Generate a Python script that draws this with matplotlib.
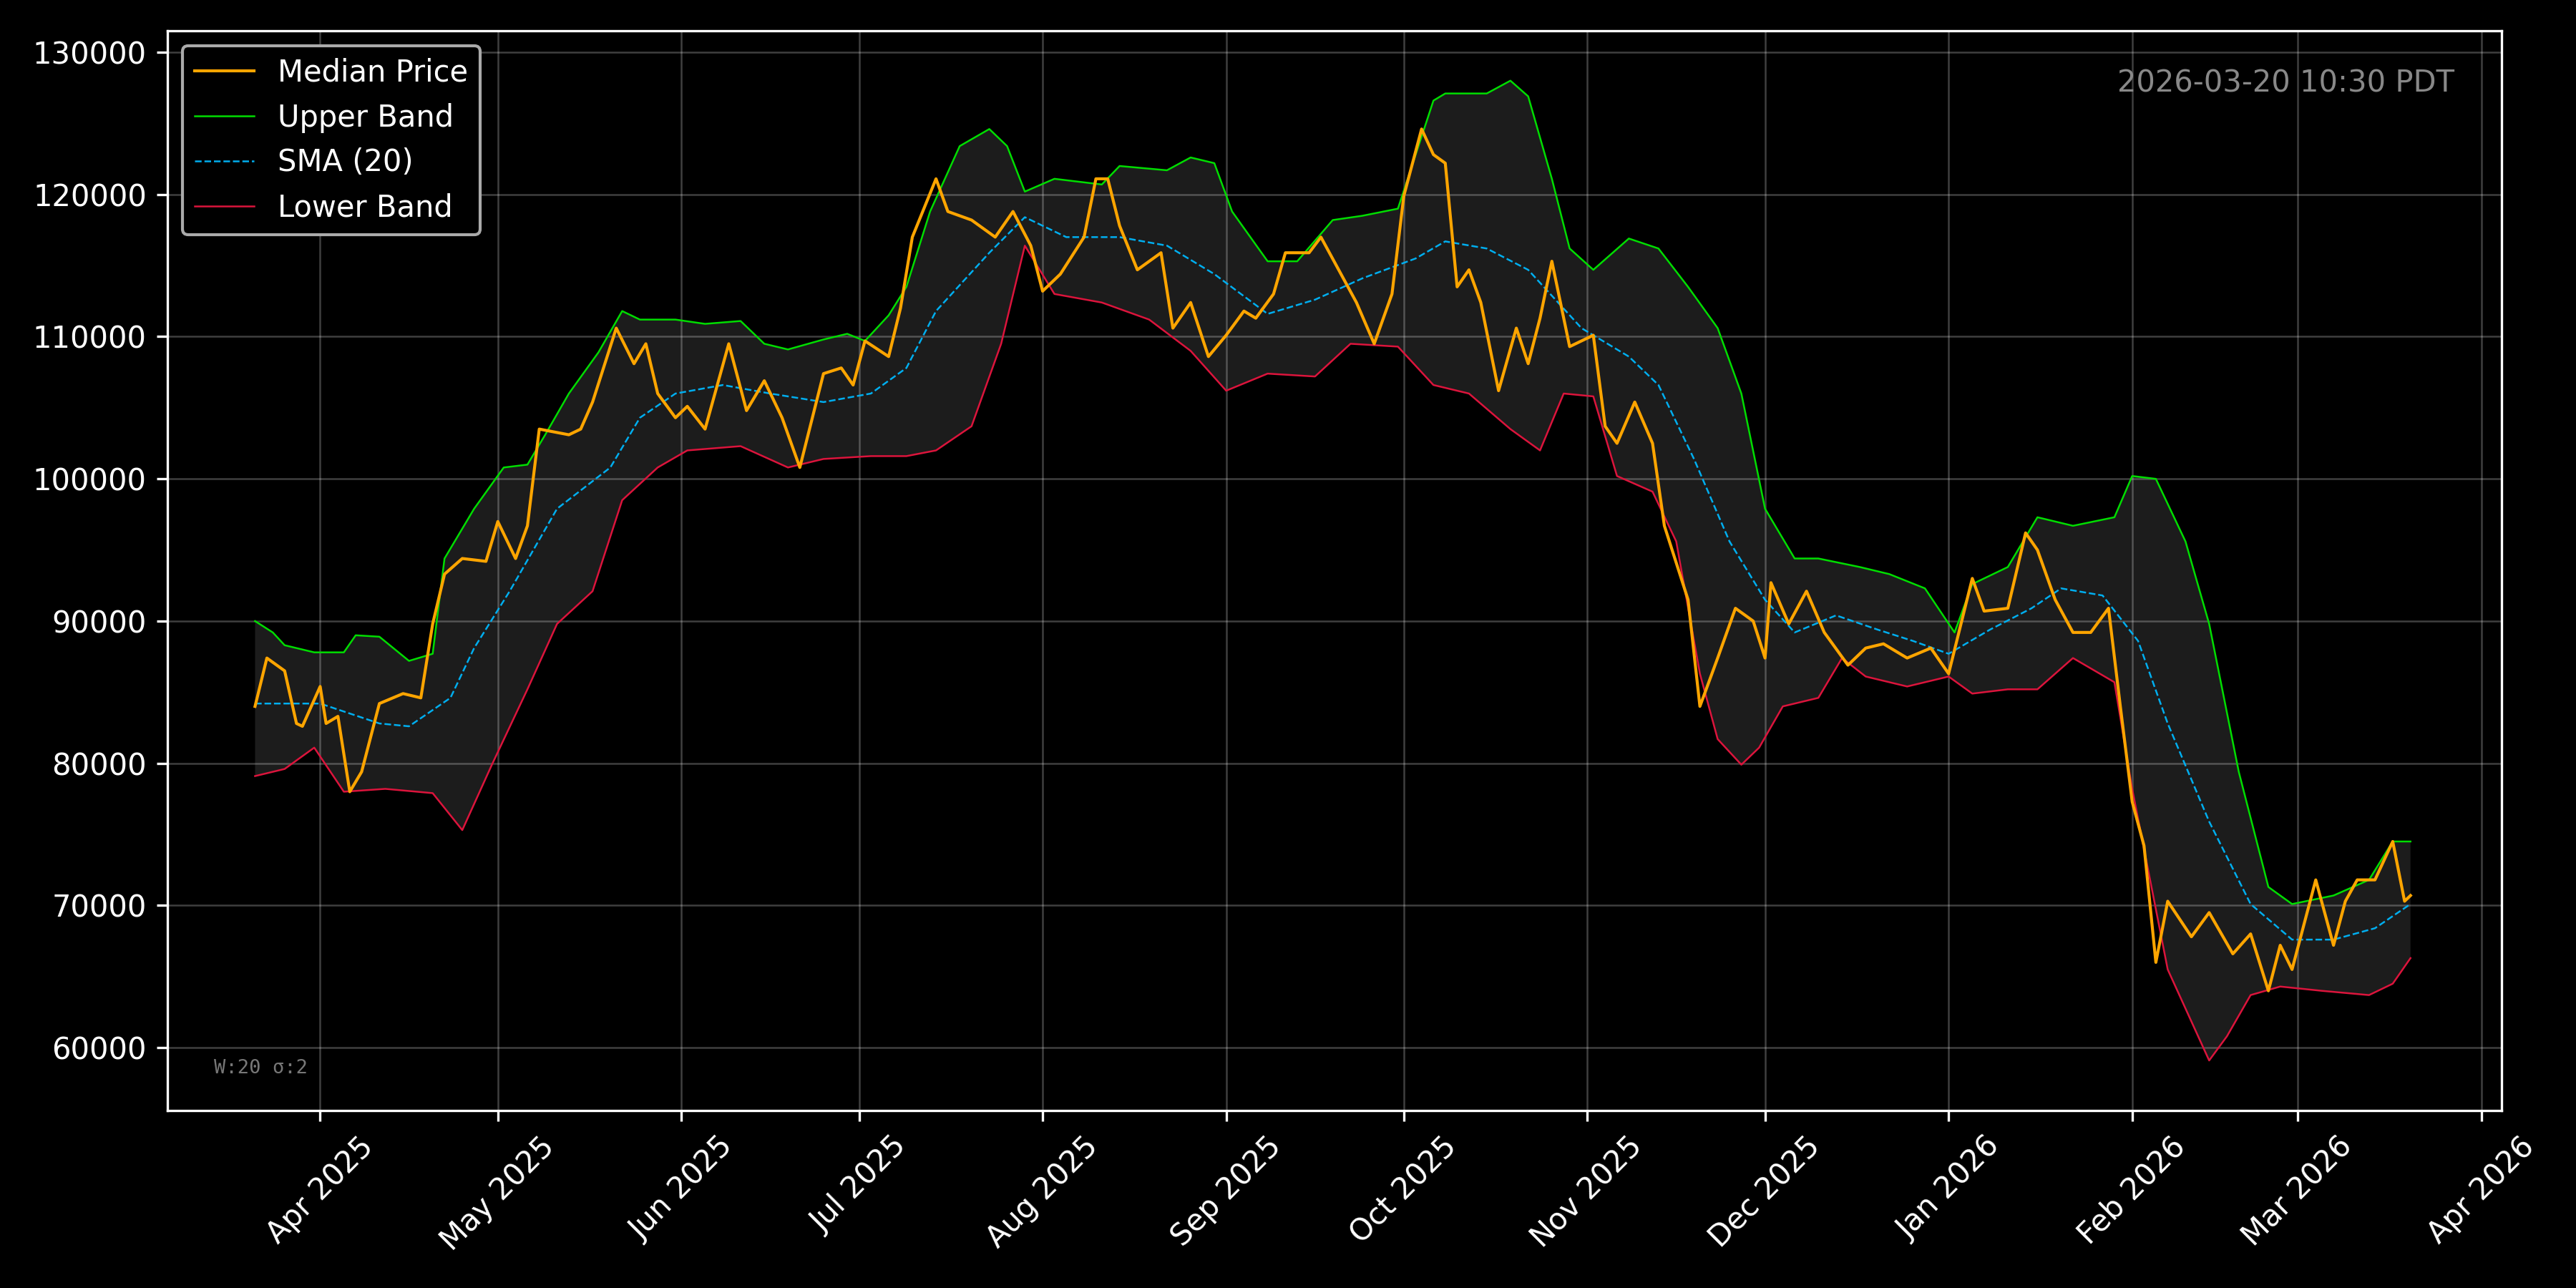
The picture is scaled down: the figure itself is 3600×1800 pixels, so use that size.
import numpy as np
import pandas as pd
import matplotlib.pyplot as plt
import matplotlib.dates as mdates

start = pd.Timestamp('2025-04-01')

# day offsets from 2025-04-01
med_days = [-11, -9, -6, -4, -3, 0, 1, 3, 5, 7, 10, 14, 17, 19, 21, 24, 28, 30, 33, 35,
            37, 42, 44, 46, 50, 53, 55, 57, 60, 62, 65, 69, 72, 75, 78, 81, 85, 88, 90, 92,
            96, 98, 100, 104, 106, 110, 114, 117, 120, 122, 125, 129, 131, 133, 135, 138, 142, 144, 147, 150,
            153, 156, 158, 161, 163, 167, 169, 172, 175, 178, 181, 183, 186, 188, 190, 192, 194, 196, 199, 202,
            204, 206, 208, 211, 215, 217, 219, 222, 225, 227, 231, 233, 236, 239, 242, 244, 245, 248, 251, 254,
            258, 261, 264, 268, 272, 275, 279, 281, 285, 288, 290, 293, 296, 299, 302, 304, 306, 308, 310, 312,
            316, 319, 323, 326, 329, 331, 333, 337, 340, 342, 344, 347, 350, 352, 353]
med_vals = [84000, 87400, 86500, 82800, 82600, 85400, 82800, 83300, 78000, 79400, 84200, 84900, 84600, 89800, 93300, 94400, 94200, 97000, 94400, 96700,
            103500, 103100, 103500, 105400, 110600, 108100, 109500, 106000, 104300, 105100, 103500, 109500, 104800, 106900, 104300, 100800, 107400, 107800, 106600, 109700,
            108600, 112000, 117000, 121100, 118800, 118200, 117000, 118800, 116400, 113200, 114400, 117000, 121100, 121100, 117800, 114700, 115900, 110600, 112400, 108600,
            110100, 111800, 111300, 113000, 115900, 115900, 117000, 114700, 112400, 109500, 113000, 119900, 124600, 122800, 122200, 113500, 114700, 112400, 106200, 110600,
            108100, 111300, 115300, 109300, 110100, 103700, 102500, 105400, 102500, 96700, 91500, 84000, 87400, 90900, 90000, 87400, 92700, 89800, 92100, 89200,
            86900, 88100, 88400, 87400, 88100, 86300, 93000, 90700, 90900, 96200, 95000, 91500, 89200, 89200, 90900, 84000, 77300, 74200, 66000, 70300,
            67800, 69500, 66600, 68000, 64000, 67200, 65500, 71800, 67200, 70300, 71800, 71800, 74500, 70300, 70700]

upper_days = [-11, -8, -6, -1, 4, 6, 10, 15, 19, 21, 26, 31, 35, 38, 42, 47, 51, 54, 60, 65,
              71, 75, 79, 85, 89, 92, 96, 99, 103, 108, 113, 116, 119, 124, 132, 135, 143, 147, 151, 154,
              160, 165, 171, 176, 182, 188, 190, 197, 201, 204, 208, 211, 215, 221, 226, 231, 236, 240, 244, 249,
              253, 260, 265, 271, 276, 279, 285, 290, 296, 303, 306, 310, 315, 319, 324, 329, 333, 340, 346, 350, 353]
upper_vals = [90000, 89200, 88300, 87800, 87800, 89000, 88900, 87200, 87700, 94400, 97900, 100800, 101000, 103100, 106000, 108900, 111800, 111200, 111200, 110900,
              111100, 109500, 109100, 109800, 110200, 109700, 111500, 113500, 118800, 123400, 124600, 123400, 120200, 121100, 120700, 122000, 121700, 122600, 122200, 118800,
              115300, 115300, 118200, 118500, 119000, 126600, 127100, 127100, 128000, 126900, 121100, 116200, 114700, 116900, 116200, 113500, 110600, 106000, 97900, 94400,
              94400, 93800, 93300, 92300, 89200, 92600, 93800, 97300, 96700, 97300, 100200, 100000, 95600, 89800, 79400, 71300, 70100, 70700, 71800, 74500, 74500]

lower_days = [-11, -6, -1, 4, 11, 19, 24, 29, 35, 40, 46, 51, 57, 62, 71, 79, 85, 93, 99, 104,
              110, 115, 119, 124, 132, 140, 147, 153, 160, 168, 174, 182, 188, 194, 201, 206, 210, 215, 219, 225,
              229, 233, 236, 240, 243, 247, 253, 257, 261, 268, 275, 279, 285, 290, 296, 303, 306, 312, 319, 322,
              326, 331, 338, 346, 350, 353]
lower_vals = [79100, 79600, 81100, 78000, 78200, 77900, 75300, 79900, 85200, 89800, 92100, 98500, 100800, 102000, 102300, 100800, 101400, 101600, 101600, 102000,
              103700, 109500, 116400, 113000, 112400, 111200, 109000, 106200, 107400, 107200, 109500, 109300, 106600, 106000, 103500, 102000, 106000, 105800, 100200, 99100,
              95600, 86300, 81700, 79900, 81100, 84000, 84600, 87400, 86100, 85400, 86100, 84900, 85200, 85200, 87400, 85700, 78200, 65500, 59100, 60800,
              63700, 64300, 64000, 63700, 64500, 66300]

sma_days = [-11, 0, 10, 15, 22, 26, 32, 40, 49, 54, 60, 68, 76, 85, 93, 99, 104, 113, 119, 126,
            135, 143, 151, 160, 168, 176, 185, 190, 197, 204, 213, 221, 226, 232, 238, 244, 249, 256, 263, 269,
            275, 282, 289, 294, 301, 307, 312, 319, 326, 333, 340, 347, 353]
sma_vals = [84200, 84200, 82800, 82600, 84600, 88100, 92100, 97900, 100800, 104300, 106000, 106600, 106000, 105400, 106000, 107800, 111800, 115900, 118400, 117000,
            117000, 116400, 114400, 111600, 112600, 114100, 115500, 116700, 116200, 114700, 110600, 108600, 106600, 101400, 95600, 91500, 89200, 90400, 89400, 88600,
            87700, 89400, 90900, 92300, 91800, 88600, 82800, 75900, 70100, 67600, 67600, 68400, 70100]

def to_dates(days):
    return start + pd.to_timedelta(days, unit='D')

plt.rcParams['font.family'] = ['DejaVu Sans']
fig = plt.figure(figsize=(12, 6), dpi=300, facecolor='black')
ax = fig.add_axes([0.065, 0.138, 0.906, 0.838])
ax.set_facecolor('black')

ud = to_dates(upper_days)
ld = to_dates(lower_days)
poly_x = np.concatenate([mdates.date2num(ud), mdates.date2num(ld)[::-1]])
poly_y = np.concatenate([upper_vals, lower_vals[::-1]])
ax.fill(poly_x, poly_y, color='#1c1c1c', zorder=1, linewidth=0)

ax.plot(to_dates(med_days), med_vals, color='#FFA500', lw=1.0, label='Median Price', zorder=4)
ax.plot(ud, upper_vals, color='#00DD00', lw=0.6, label='Upper Band', zorder=3)
ax.plot(to_dates(sma_days), sma_vals, color='#00AEEF', lw=0.6, ls='--', label='SMA (20)', zorder=3)
ax.plot(ld, lower_vals, color='#DC143C', lw=0.6, label='Lower Band', zorder=3)

ax.set_xlim(pd.Timestamp('2025-03-06 05:00'), pd.Timestamp('2026-04-04 08:00'))
ax.set_ylim(55600, 131500)
ax.xaxis.set_major_locator(mdates.MonthLocator())
ax.xaxis.set_major_formatter(mdates.DateFormatter('%b %Y'))
plt.setp(ax.get_xticklabels(), rotation=45)
ax.grid(True, color='white', alpha=0.25, lw=0.6)
for s in ax.spines.values():
    s.set_color('white')
ax.tick_params(colors='white', labelsize=10)

leg = ax.legend(loc='upper left', facecolor='black', edgecolor='#aaaaaa', fontsize=10, labelcolor='white')
leg.get_frame().set_alpha(1)

ax.text(0.98, 0.965, '2026-03-20 10:30 PDT', transform=ax.transAxes, ha='right', va='top',
        color='#888888', fontsize=10)
ax.text(0.02, 0.03, 'W:20 σ:2', transform=ax.transAxes, ha='left', va='bottom',
        color='#777777', fontsize=6.5, family='DejaVu Sans Mono')

plt.savefig('out.png', facecolor='black')
